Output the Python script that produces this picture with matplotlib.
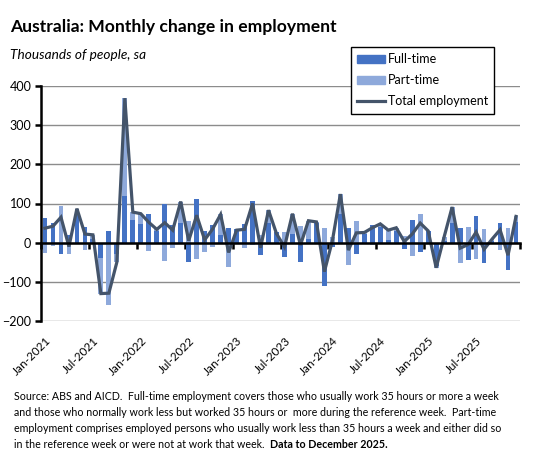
import matplotlib
matplotlib.use("Agg")
import matplotlib.pyplot as plt
import numpy as np
from matplotlib.patches import Patch
from matplotlib.lines import Line2D

plt.rcParams['font.family'] = ['Lato', 'DejaVu Sans']

# Monthly change, thousands of people (Jan-2021 .. Dec-2025)
full_time = [63, 51, -28, 20, 85, 40, 10, -38, 29, -30,
             119, 58, 48, 72, 30, 98, 45, 49, -50, 111,
             30, 45, 20, 37, 34, 47, 107, -32, 51, 27,
             -37, 22, -49, 10, 50, -111, -10, 73, 37, -30,
             21, 45, 40, 8, 30, -15, 57, -23, 30, -60,
             3, 51, 37, -45, 68, -51, 5, 51, -69, 53]
part_time = [-26, -9, 93, -30, 2, -18, 10, -92, -158, -20,
             250, 20, 26, -20, 4, -47, -13, 56, 55, -41,
             -23, -10, 52, -62, -2, -13, -7, 19, 32, -4,
             26, 52, 43, 46, 3, 37, 15, 51, -56, 55,
             5, -7, 8, 24, 8, 18, -35, 73, 0, -4,
             12, 40, -51, 40, -41, 34, 4, -18, 37, 14]
tick_labels = ['Jan-2021', 'Jul-2021', 'Jan-2022', 'Jul-2022', 'Jan-2023',
               'Jul-2023', 'Jan-2024', 'Jul-2024', 'Jan-2025', 'Jul-2025']

ft = np.array(full_time)
pt = np.array(part_time)
total = ft + pt
x = np.arange(len(ft))

# excel-style stacking: same sign stacks on the full-time bar, otherwise from zero
pt_bottom = np.where(np.sign(pt) == np.sign(ft), ft, 0)

c_ft = '#4472C4'
c_pt = '#8EA9DB'
c_line = '#44546A'

fig = plt.figure(figsize=(5.48, 4.54), dpi=100)
ax = fig.add_axes([41/548, 1-321/454, (520-41)/548, (321-86)/454])

ax.bar(x, ft, width=0.6, color=c_ft, zorder=2)
ax.bar(x, pt, width=0.6, bottom=pt_bottom, color=c_pt, zorder=2)
ax.plot(x, total, color=c_line, lw=2.3, zorder=3, solid_joinstyle='miter')

ax.set_xlim(-0.5, len(ft) - 0.5)
ax.set_ylim(-200, 400)
ax.set_yticks(range(-200, 401, 100))
ax.yaxis.grid(True, color='#8c8c8c', lw=1)
ax.set_axisbelow(True)

# category axis crosses at zero
ax.spines['top'].set_position(('data', 0))
ax.spines['top'].set_linewidth(1.8)
ax.spines['top'].set_zorder(4)
ax.spines['bottom'].set_visible(False)
ax.spines['right'].set_visible(False)
ax.spines['left'].set_linewidth(1.8)

ax.set_xticks(np.arange(-0.5, len(ft), 6))
ax.set_xticks(np.arange(0, len(ft), 6), minor=True)
ax.set_xticklabels(tick_labels, minor=True, rotation=45, ha='right',
                   rotation_mode='anchor', fontsize=8.5)
ax.tick_params(axis='x', which='major', top=True, bottom=False, labelbottom=False,
               labeltop=False, direction='in', length=4, width=1.8)
ax.tick_params(axis='x', which='minor', bottom=True, top=False, length=0, pad=10)
ax.tick_params(axis='y', direction='out', length=4, width=1.8, labelsize=9, pad=3)

fig.text(10/548, 1-27/454, 'Australia: Monthly change in employment',
         fontsize=12.6, fontweight='bold', va='center')
fig.text(10/548, 1-55/454, 'Thousands of people, sa',
         fontsize=9.8, style='italic', va='center')

handles = [Patch(color=c_ft), Patch(color=c_pt), Line2D([], [], color=c_line, lw=2.3)]
leg = fig.legend(handles, ['Full-time', 'Part-time', 'Total employment'],
                 loc='upper left', bbox_to_anchor=(351/548, 1-47/454),
                 borderaxespad=0, fontsize=9, frameon=True, fancybox=False,
                 edgecolor='black', handlelength=2.2, handleheight=0.7,
                 handletextpad=0.25, labelspacing=0.72, borderpad=0.5,
                 framealpha=1)
leg.get_frame().set_linewidth(1)

notes = ['Source: ABS and AICD.  Full-time employment covers those who usually work 35 hours or more a week',
         'and those who normally work less but worked 35 hours or  more during the reference week.  Part-time',
         'employment comprises employed persons who usually work less than 35 hours a week and either did so',
         'in the reference week or were not at work that week.  ']
ys = [397, 413, 428.5, 444]
fs = 7.7
last = None
for line, yy in zip(notes, ys):
    last = fig.text(14/548, 1-yy/454, line, fontsize=fs, va='center')
r = fig.canvas.get_renderer()
bb = last.get_window_extent(renderer=r)
fig.text(bb.x1/fig.bbox.width, 1-ys[-1]/454, 'Data to December 2025.',
         fontsize=fs, fontweight='bold', va='center')

fig.savefig('out.png', dpi=100)
